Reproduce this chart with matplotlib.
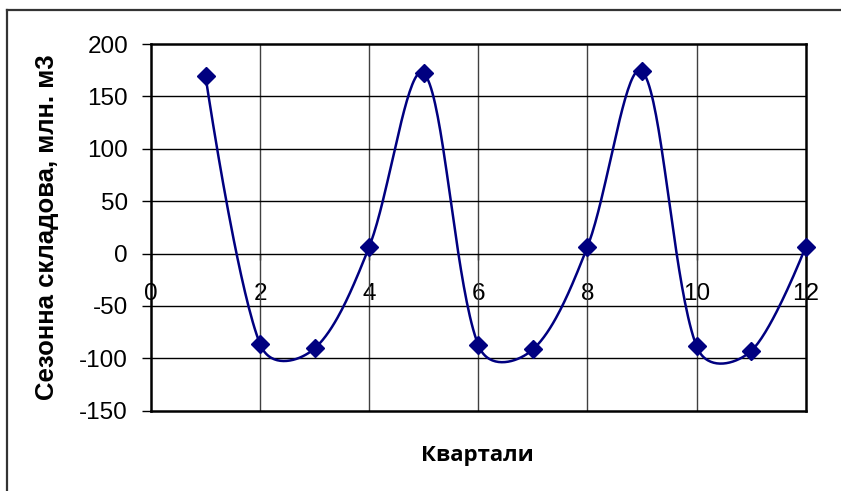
import numpy as np
import matplotlib
matplotlib.use("Agg")
import matplotlib.pyplot as plt
from matplotlib.lines import Line2D

quarters = [1, 2, 3, 4, 5, 6, 7, 8, 9, 10, 11, 12]
seasonal = [169, -86.5, -90.5, 6.5, 172, -87.5, -91.5, 6.5, 174, -88.5, -93, 6.5]
x_ticks = [0, 2, 4, 6, 8, 10, 12]
y_ticks = [-150, -100, -50, 0, 50, 100, 150, 200]
y_label = "Сезонна складова, млн. м3"
x_label = "Квартали"

NAVY = "#000080"

W, H = 841, 491
AX_L, AX_R, AX_T, AX_B = 151, 805.7, 44, 410.7


def smooth(xs, ys, sx, sy, n=40):
    # Bezier smoothing with chord-length-damped tangents (computed in pixel space)
    P = np.column_stack([np.asarray(xs, float) * sx, np.asarray(ys, float) * sy])
    m = len(P)
    out = [P[0]]
    for i in range(m - 1):
        p0 = P[i - 1] if i > 0 else P[i]
        p1 = P[i]
        p2 = P[i + 1]
        p3 = P[i + 2] if i + 2 < m else P[i + 1]
        d01 = np.linalg.norm(p1 - p0)
        d12 = np.linalg.norm(p2 - p1)
        d23 = np.linalg.norm(p3 - p2)
        f1 = np.sqrt(2 * d12 / (d01 + d12)) / 6.0 if d01 > 0 else 0.0
        f2 = np.sqrt(2 * d12 / (d12 + d23)) / 6.0 if d23 > 0 else 0.0
        c1 = p1 + (p2 - p0) * f1
        c2 = p2 - (p3 - p1) * f2
        t = np.linspace(0, 1, n)[1:, None]
        seg = ((1 - t) ** 3) * p1 + 3 * ((1 - t) ** 2) * t * c1 + 3 * (1 - t) * t ** 2 * c2 + t ** 3 * p2
        out.extend(seg)
    out = np.array(out)
    return out[:, 0] / sx, out[:, 1] / sy


plt.rcParams["font.family"] = ["Liberation Sans", "DejaVu Sans"]

fig = plt.figure(figsize=(W / 100, H / 100), dpi=100)
ax = fig.add_axes([AX_L / W, 1 - AX_B / H, (AX_R - AX_L) / W, (AX_B - AX_T) / H])

ax.set_xlim(0, 12)
ax.set_ylim(-150, 200)

for xv in x_ticks[1:-1]:
    ax.axvline(xv, color="#404040", lw=1.0, zorder=1)
for yv in y_ticks[1:-1]:
    ax.axhline(yv, color="#000000", lw=1.0, zorder=1)

px_x = (AX_R - AX_L) / 12.0
px_y = (AX_B - AX_T) / 350.0
cx, cy = smooth(quarters, seasonal, px_x, px_y)
ax.plot(cx, cy, color=NAVY, lw=1.8, zorder=3, clip_on=False)
ax.plot(quarters, seasonal, linestyle="none", marker="D", markersize=9,
        color=NAVY, zorder=4, clip_on=False)

for sp in ax.spines.values():
    sp.set_linewidth(1.8)
    sp.set_color("black")

ax.set_yticks(y_ticks)
ax.set_yticklabels([str(v) for v in y_ticks], fontsize=17.5)
ax.tick_params(axis="y", direction="out", length=6.5, width=1.0, pad=10)

ax.set_xticks([])
sec = ax.secondary_xaxis(150 / 350)
sec.set_xticks(x_ticks)
sec.set_xticklabels([str(v) for v in x_ticks], fontsize=17.5)
sec.tick_params(axis="x", direction="out", length=4, width=1.0, pad=17)
sec.spines["bottom"].set_visible(False)

fig.text(47 / W, 1 - 227.5 / H, y_label, rotation=90, ha="center", va="center",
         fontsize=18.5, fontweight="bold")
fig.text(477.5 / W, 1 - 456 / H, x_label, ha="center", va="center",
         fontsize=16, fontweight="bold", family=["Open Sans", "DejaVu Sans"])

fig.add_artist(Line2D([7 / W, 1.0], [1 - 10 / H, 1 - 10 / H], color="#333333", lw=1.6))
fig.add_artist(Line2D([7 / W, 7 / W], [1 - 10 / H, 0.0], color="#333333", lw=1.6))

fig.savefig("out.png", dpi=100)
